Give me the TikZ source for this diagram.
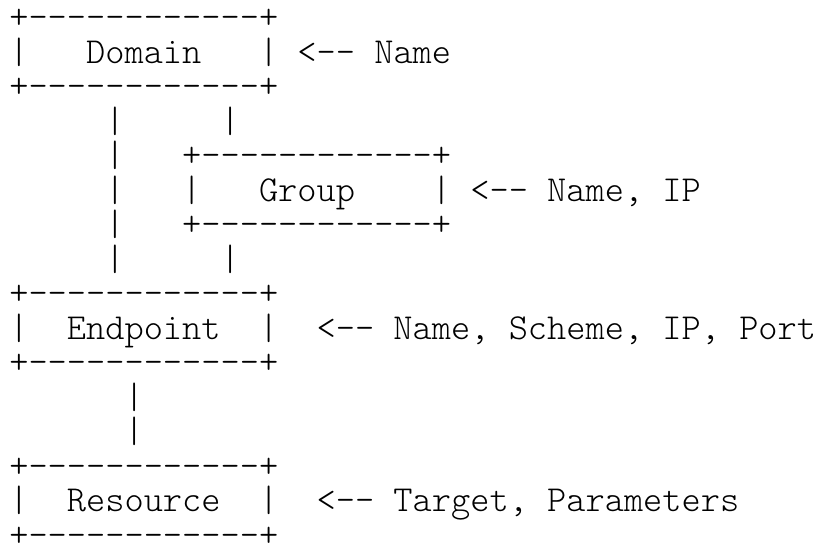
\documentclass[tikz,border=0pt]{standalone}
\usepackage{fontspec}
\tikzset{
  asc/.style={font=\ttfamily\fontseries{l}\fontsize{36.59pt}{34pt}\selectfont, inner sep=0pt, outer sep=0pt, anchor=base west, text=black}
}
\newcommand\seg[4]{\node[asc] (#1) at ({(9.3+19.21*#3)*1pt},{-(29+34.47*#2)*1pt}) {#4};}
\begin{document}
\begin{tikzpicture}
\useasboundingbox[fill=white] (0pt,0pt) rectangle (819pt,-545pt);
% Domain box
\seg{domTop}{0}{0}{+------------+}
\seg{domL}{1}{0}{|}
\seg{domText}{1}{4}{Domain}
\seg{domR}{1}{13}{| <-- Name}
\seg{domBot}{2}{0}{+------------+}
% links from Domain
\seg{lA3}{3}{5}{|}
\seg{lB3}{3}{11}{|}
% Group box
\seg{lA4}{4}{5}{|}
\seg{grpTop}{4}{9}{+------------+}
\seg{lA5}{5}{5}{|}
\seg{grpL}{5}{9}{|}
\seg{grpText}{5}{13}{Group}
\seg{grpR}{5}{22}{| <-- Name, IP}
\seg{lA6}{6}{5}{|}
\seg{grpBot}{6}{9}{+------------+}
\seg{lA7}{7}{5}{|}
\seg{lB7}{7}{11}{|}
% Endpoint box
\seg{epTop}{8}{0}{+------------+}
\seg{epL}{9}{0}{|}
\seg{epText}{9}{3}{Endpoint}
\seg{epR}{9}{13}{|}
\seg{epAttr}{9}{16}{<-- Name, Scheme, IP, Port}
\seg{epBot}{10}{0}{+------------+}
% link to Resource
\seg{lC11}{11}{6}{|}
\seg{lC12}{12}{6}{|}
% Resource box
\seg{resTop}{13}{0}{+------------+}
\seg{resL}{14}{0}{|}
\seg{resText}{14}{3}{Resource}
\seg{resR}{14}{13}{|}
\seg{resAttr}{14}{16}{<-- Target, Parameters}
\seg{resBot}{15}{0}{+------------+}
\end{tikzpicture}
\end{document}
